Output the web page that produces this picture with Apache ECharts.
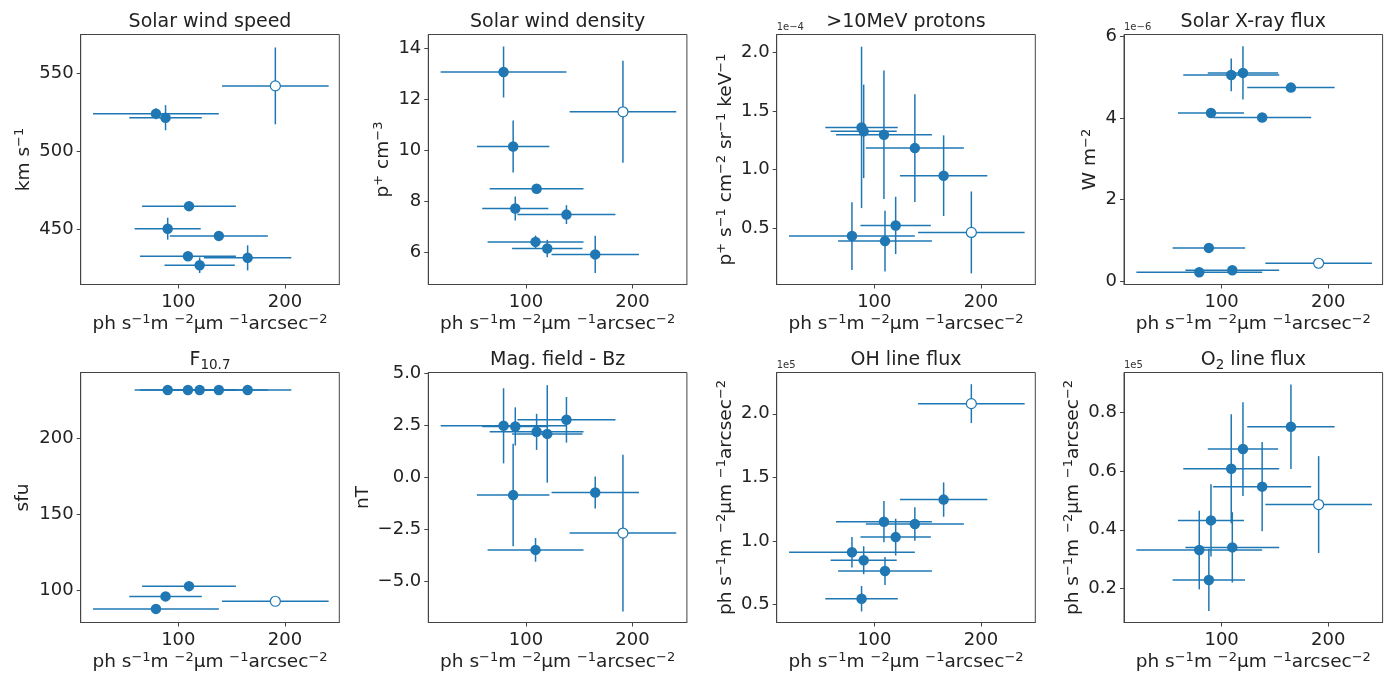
<!DOCTYPE html>
<html><head><meta charset="utf-8">
<script src="https://cdn.jsdelivr.net/npm/echarts@6/dist/echarts.min.js"></script>
<style>html,body{margin:0;padding:0;background:#fff}#c{width:1384px;height:673px}</style>
</head><body><div id="c"></div>
<script>
// ---- data (order of the 9 observations is the same in every panel; last one is the open marker)
const xVals = [79, 88, 90, 109, 110, 120, 138, 165, 191];
const xErr  = [59, 34, 31, 45, 44, 33, 46, 41, 50];
const openIndex = 8;

const speed      = [524, 521.4, 450.6, 433, 465, 427.3, 446, 432, 541.7];
const speedErr   = [3.5, 8, 7, 1.5, 1.5, 5, 1.5, 8, 24.5];
const density    = [13.08, 10.16, 7.73, 6.42, 8.5, 6.16, 7.49, 5.93, 11.52];
const densityErr = [1.0, 1.02, 0.47, 0.25, 0.05, 0.34, 0.37, 0.73, 2.0];
const protons    = [0.432, 1.361, 1.327, 1.298, 0.389, 0.523, 1.184, 0.948, 0.463]; // x1e-4
const protonsErr = [0.29, 0.69, 0.40, 0.55, 0.26, 0.245, 0.46, 0.345, 0.35];
const xray       = [0.22, 0.816, 4.12, 5.05, 0.27, 5.10, 4.01, 4.74, 0.44]; // x1e-6
const xrayErr    = [0.02, 0.02, 0.02, 0.4, 0.02, 0.65, 0.02, 0.02, 0.02];
const f107       = [88.1, 96.3, 231.4, 231.4, 103, 231.4, 231.4, 231.4, 93.1];
const f107Err    = [0.5, 0.5, 0.5, 0.5, 0.5, 0.5, 0.5, 0.5, 0.5];
const bz         = [2.49, -0.85, 2.46, -3.49, 2.2, 2.1, 2.78, -0.72, -2.68];
const bzErr      = [1.81, 2.47, 0.92, 0.57, 0.87, 2.35, 1.1, 0.77, 3.78];
const ohFlux     = [0.911, 0.545, 0.848, 1.151, 0.763, 1.03, 1.133, 1.325, 2.08]; // x1e5
const ohErr      = [0.12, 0.1, 0.11, 0.162, 0.11, 0.145, 0.132, 0.135, 0.153];
const o2Flux     = [0.331, 0.229, 0.432, 0.608, 0.34, 0.675, 0.547, 0.751, 0.486]; // x1e5
const o2Err      = [0.134, 0.106, 0.123, 0.186, 0.12, 0.16, 0.152, 0.144, 0.165];

const xTicks = [100, 200];
const yTicks = [
  [450, 500, 550],
  [6, 8, 10, 12, 14],
  [0.5, 1.0, 1.5, 2.0],
  [0, 2, 4, 6],
  [100, 150, 200],
  [-5, -2.5, 0, 2.5, 5],
  [0.5, 1.0, 1.5, 2.0],
  [0.2, 0.4, 0.6, 0.8]
];

// ---- styling / layout
const FONT = 'DejaVu Sans';
const BLUE = '#1f77b4';
const TXT = '#222';
const FRAME = '#444';
const xLabelRich = 'ph s{s|−1}m {s|−2}μm {s|−1}arcsec{s|−2}';

const panels = [
  {title: 'Solar wind speed', y: speed, e: speedErr, min: 415, max: 574.5, dec: 0, name: 'km s{s|−1}', gap: 46, off: null},
  {title: 'Solar wind density', y: density, e: densityErr, min: 4.75, max: 14.55, dec: 0, name: 'p{s|+} cm{s|−3}', gap: 32, off: null},
  {title: '>10MeV protons', y: protons, e: protonsErr, min: 0.018, max: 2.155, dec: 1, name: 'p{s|+} s{s|−1} cm{s|−2} sr{s|−1} keV{s|−1}', gap: 39, off: '1e−4'},
  {title: 'Solar X-ray flux', y: xray, e: xrayErr, min: -0.08, max: 6.04, dec: 0, name: 'W m{s|−2}', gap: 22, off: '1e−6'},
  {title: 'F{b|10.7}', y: f107, e: f107Err, min: 79.2, max: 242.9, dec: 0, name: 'sfu', gap: 47, off: null},
  {title: 'Mag. field - Bz', y: bz, e: bzErr, min: -6.99, max: 5.06, dec: 1, name: 'nT', gap: 54, off: null},
  {title: 'OH line flux', y: ohFlux, e: ohErr, min: 0.358, max: 2.325, dec: 1, name: xLabelRich, gap: 39, off: '1e5'},
  {title: 'O{b|2} line flux', y: o2Flux, e: o2Err, min: 0.084, max: 0.936, dec: 1, name: xLabelRich, gap: 38, off: '1e5'}
];

const lefts = [80.7, 428.3, 776.7, 1124];
const tops = [34.5, 372.5];
const W = 258.6, H = 250;

const supRich = {
  s: {fontFamily: FONT, fontSize: 13, lineHeight: 12, verticalAlign: 'top', color: TXT},
  b: {fontFamily: FONT, fontSize: 13, lineHeight: 10, verticalAlign: 'bottom', color: TXT}
};

function fmt(v, dec) {
  return v.toFixed(dec).replace('-', '−');
}

function renderErr(params, api) {
  const x = api.value(0), y = api.value(1), xe = api.value(2), ye = api.value(3);
  const a = api.coord([x - xe, y]), b = api.coord([x + xe, y]);
  const c = api.coord([x, y - ye]), d = api.coord([x, y + ye]);
  const st = {stroke: BLUE, lineWidth: 1.5};
  return {type: 'group', children: [
    {type: 'line', shape: {x1: a[0], y1: a[1], x2: b[0], y2: b[1]}, style: st},
    {type: 'line', shape: {x1: c[0], y1: c[1], x2: d[0], y2: d[1]}, style: st}
  ]};
}

const grid = [], xAxis = [], yAxis = [], series = [], graphic = [];
panels.forEach((p, i) => {
  const left = lefts[i % 4], top = tops[Math.floor(i / 4)];
  grid.push({left: left, top: top, width: W, height: H, show: true, borderColor: FRAME, borderWidth: 1,
             backgroundColor: 'transparent', containLabel: false, outerBoundsMode: 'none'});
  xAxis.push({
    type: 'value', gridIndex: i, min: 8.4, max: 251,
    splitLine: {show: false},
    axisLine: {show: true, onZero: false, lineStyle: {color: FRAME, width: 1}},
    axisTick: {show: true, length: 4, customValues: xTicks, lineStyle: {color: FRAME, width: 1}},
    axisLabel: {customValues: xTicks, margin: 9, color: TXT, fontFamily: FONT, fontSize: 18, formatter: v => fmt(v, 0)},
    name: xLabelRich, nameLocation: 'middle', nameGap: 29,
    nameTextStyle: {fontFamily: FONT, fontSize: 18.5, lineHeight: 22, color: TXT, rich: supRich}
  });
  yAxis.push({
    type: 'value', gridIndex: i, min: p.min, max: p.max,
    splitLine: {show: false},
    axisLine: {show: true, onZero: false, lineStyle: {color: FRAME, width: 1}},
    axisTick: {show: true, length: 4, customValues: yTicks[i], lineStyle: {color: FRAME, width: 1}},
    axisLabel: {customValues: yTicks[i], margin: 7, color: TXT, fontFamily: FONT, fontSize: 18, formatter: v => fmt(v, p.dec)},
    name: p.name, nameLocation: 'middle', nameRotate: 90, nameGap: p.gap,
    nameTextStyle: {fontFamily: FONT, fontSize: 18.5, lineHeight: 22, color: TXT, rich: supRich}
  });
  series.push({
    type: 'custom', xAxisIndex: i, yAxisIndex: i, renderItem: renderErr, silent: true, z: 2,
    encode: {x: 0, y: 1},
    data: xVals.map((x, k) => [x, p.y[k], xErr[k], p.e[k]])
  });
  series.push({
    type: 'scatter', xAxisIndex: i, yAxisIndex: i, symbol: 'circle', symbolSize: 10.5, z: 3,
    itemStyle: {color: BLUE, opacity: 1},
    data: xVals.map((x, k) => [x, p.y[k]]).filter((_, k) => k !== openIndex)
  });
  series.push({
    type: 'scatter', xAxisIndex: i, yAxisIndex: i, symbol: 'circle', symbolSize: 10, z: 4,
    itemStyle: {color: '#ffffff', borderColor: BLUE, borderWidth: 1.2, opacity: 1},
    data: [[xVals[openIndex], p.y[openIndex]]]
  });
  graphic.push({
    type: 'text', x: left + W / 2, y: top - 12, silent: true,
    style: {text: p.title, fontFamily: FONT, fontSize: 19, lineHeight: 24, fill: TXT, textAlign: 'center', textVerticalAlign: 'middle',
            rich: {b: {fontFamily: FONT, fontSize: 13.5, lineHeight: 12, verticalAlign: 'bottom', color: TXT}}}
  });
  if (p.off) {
    graphic.push({
      type: 'text', x: left, y: top - 2, silent: true,
      style: {text: p.off, fontFamily: FONT, fontSize: 10, fill: '#333', textAlign: 'left', textVerticalAlign: 'bottom'}
    });
  }
});

const chart = echarts.init(document.getElementById('c'));
chart.setOption({
  animation: false,
  backgroundColor: '#ffffff',
  grid, xAxis, yAxis, series, graphic
});
</script></body></html>
